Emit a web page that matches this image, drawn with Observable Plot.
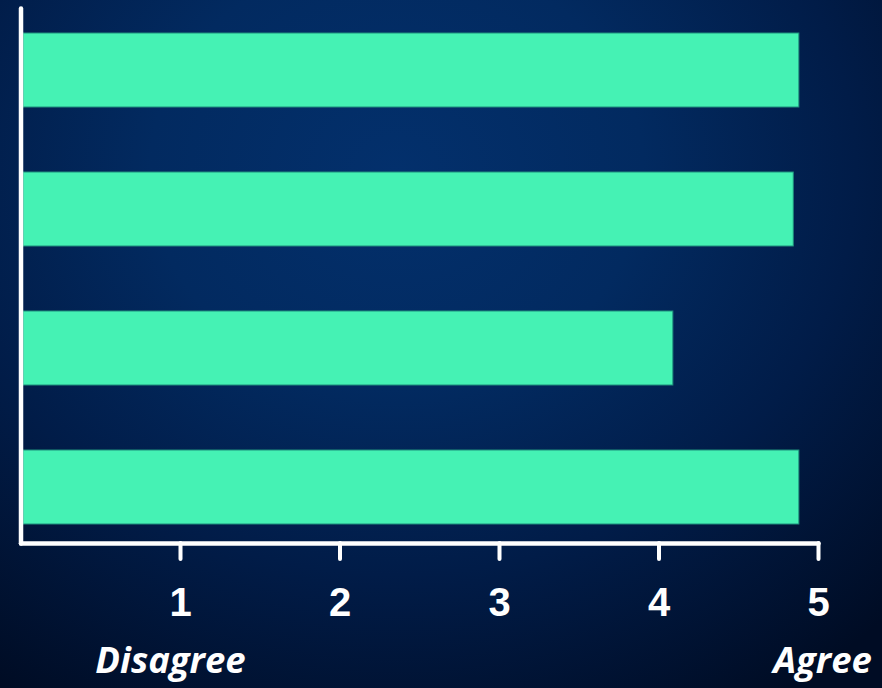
<!DOCTYPE html>
<html>
<head>
<meta charset="utf-8">
<script src="https://cdn.jsdelivr.net/npm/d3@7"></script>
<script src="https://cdn.jsdelivr.net/npm/@observablehq/plot@0.6"></script>
<style>
  html, body { margin: 0; padding: 0; width: 882px; height: 688px; overflow: hidden; }
  body {
    background:
      radial-gradient(ellipse 80% 90% at 45% 25%, #03306c 0%, #022a60 35%, #011c48 65%, #000c24 100%);
  }
  #chart svg { display: block; background: transparent; }
</style>
</head>
<body>
<div id="chart"></div>
<script>
const categories = ["Item 1", "Item 2", "Item 3", "Item 4"];
const values = [4.88, 4.845, 4.09, 4.88];
const tickValues = [1, 2, 3, 4, 5];
const leftLabel = "Disagree";
const rightLabel = "Agree";

const data = categories.map((c, i) => ({category: c, value: values[i]}));

const labelStyle = {
  frameAnchor: "bottom", lineAnchor: "top",
  fill: "white", fontSize: 36.5, fontWeight: "bold", fontStyle: "italic",
  fontFamily: "Open Sans, sans-serif"
};

const plot = Plot.plot({
  width: 882,
  height: 688,
  marginLeft: 20.5,
  marginRight: 64,
  marginTop: 8,
  marginBottom: 145,
  style: {background: "transparent", overflow: "visible"},
  x: {domain: [0, 5]},
  y: {domain: categories, range: [33, 524], paddingInner: 0.468, paddingOuter: 0, axis: null},
  marks: [
    Plot.barX(data, {
      x1: 0, x2: "value", y: "category",
      fill: "#45f2b4", stroke: "#1e8f7c", strokeWidth: 1, insetLeft: 2.5
    }),
    Plot.frame({anchor: "left", stroke: "white", strokeWidth: 4.5, strokeLinecap: "round"}),
    Plot.frame({anchor: "bottom", stroke: "white", strokeWidth: 4.5, strokeLinecap: "round"}),
    Plot.axisX({
      ticks: tickValues, tickSize: 16, tickPadding: 28,
      stroke: "white", strokeWidth: 4, strokeLinecap: "round",
      fill: "white", fontSize: 40, fontWeight: "bold",
      fontFamily: "Liberation Sans, Arial, sans-serif",
      tickFormat: d => String(d), label: null
    }),
    Plot.text([leftLabel], {x: () => tickValues[0], text: d => d, dy: 104, dx: -10, ...labelStyle}),
    Plot.text([rightLabel], {x: () => tickValues[tickValues.length - 1], text: d => d, dy: 104, dx: 4, ...labelStyle})
  ]
});
document.getElementById("chart").appendChild(plot);
</script>
</body>
</html>
